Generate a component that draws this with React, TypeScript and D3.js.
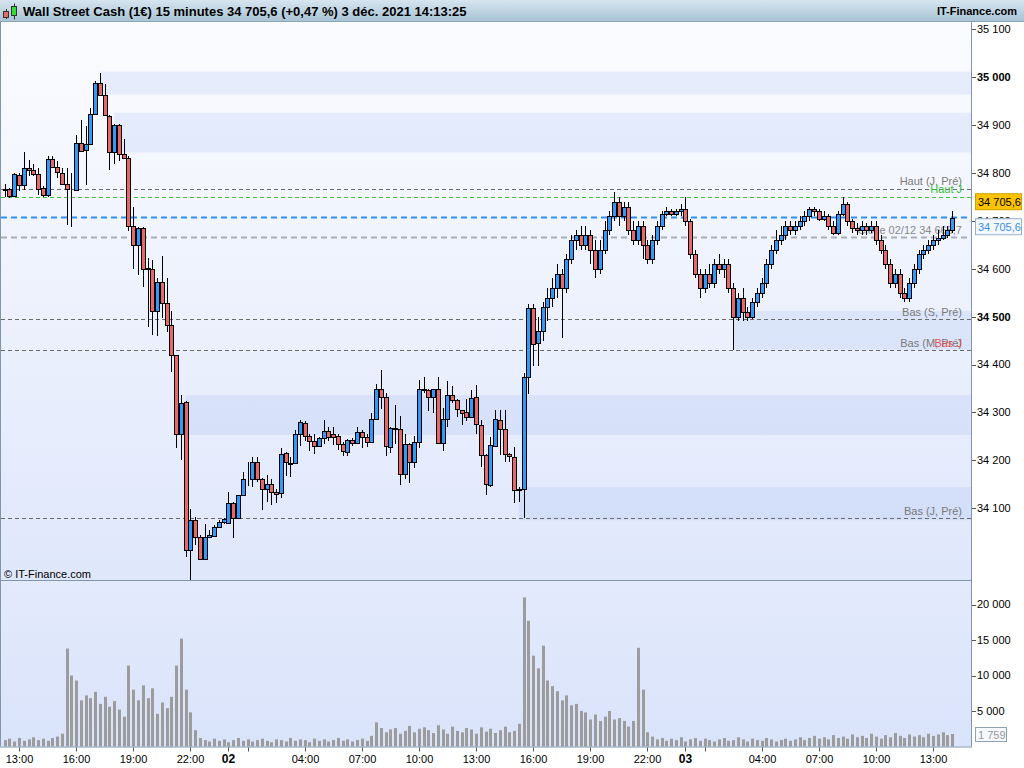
import React from "react";
import * as d3 from "d3";

// ---------- DATA ----------
const firstCandle = "2021-12-01T12:15"; // 15-minute candles
const opens = [
34766,34767,34753,34795,34774,34811,34806,34798,34768,34754,
34830,34813,34801,34777,34764,34765,34863,34848,34861,34924,
34988,34963,34920,34844,34900,34839,34832,34689,34650,34685,
34600,34600,34511,34572,34528,34483,34420,34254,34321,34012,
34075,34040,33993,34039,34042,34060,34072,34070,34110,34079,
34127,34161,34161,34196,34162,34141,34150,34133,34131,34216,
34194,34194,34256,34277,34251,34241,34230,34246,34262,34254,
34251,34235,34218,34243,34237,34260,34248,34239,34286,34348,
34333,34228,34267,34265,34171,34235,34196,34239,34348,34347,
34333,34348,34237,34286,34336,34326,34305,34300,34290,34332,
34273,34212,34148,34230,34284,34265,34214,34206,34138,34141,
34375,34519,34445,
34471,34520,34540,34560,34590,34560,34620,34660,34670,34650,
34670,34640,34600,34640,34680,34710,34740,34710,34730,34680,
34660,34690,34650,34620,34660,34690,34715,34720,34715,34720,
34725,34700,34630,34590,34560,34590,34570,34610,34600,34610,
34560,34500,34540,34510,34500,34530,34550,34570,34610,34640,
34660,34670,34690,34680,34690,34700,34710,34725,34720,34705,
34710,34690,34675,34715,34735,34700,34685,34680,34690,34680,
34690,34660,34640,34610,34570,34590,34550,34540,34570,34600,
34630,34640,34650,34660,34665,34670,34680];
const highs = [
34778,34769,34800,34800,34844,34828,34818,34811,34772,34835,
34836,34825,34811,34811,34800,34880,34910,34898,34936,34993,
35009,34985,34922,34903,34903,34872,34835,34730,34687,34687,
34622,34619,34581,34626,34581,34511,34421,34337,34323,34099,
34082,34044,34068,34054,34065,34075,34079,34134,34113,34127,
34176,34197,34207,34207,34163,34169,34160,34141,34225,34218,
34207,34263,34284,34283,34256,34255,34248,34284,34270,34270,
34256,34239,34245,34246,34270,34263,34256,34298,34359,34389,
34341,34270,34316,34293,34256,34236,34251,34368,34375,34350,
34350,34375,34309,34366,34355,34329,34306,34329,34347,34357,
34284,34214,34249,34305,34305,34305,34216,34228,34145,34382,
34527,34527,34500,
34530,34560,34580,34610,34600,34630,34670,34680,34690,34690,
34680,34660,34660,34700,34720,34760,34750,34740,34740,34700,
34700,34700,34660,34670,34700,34720,34730,34725,34725,34735,
34750,34705,34640,34600,34600,34610,34620,34630,34620,34620,
34570,34550,34560,34520,34540,34560,34580,34620,34650,34680,
34690,34700,34700,34700,34710,34720,34730,34730,34725,34720,
34715,34700,34720,34750,34740,34705,34695,34700,34695,34700,
34700,34670,34650,34620,34600,34600,34560,34580,34610,34640,
34650,34660,34670,34680,34690,34690,34720];
const lows = [
34751,34747,34751,34762,34765,34793,34793,34755,34749,34749,
34811,34790,34776,34692,34687,34763,34844,34776,34859,34922,
34961,34919,34807,34818,34825,34830,34678,34600,34588,34563,
34479,34462,34459,34497,34469,34385,34225,34201,33998,33950,
34023,33991,33991,34037,34042,34058,34068,34068,34038,34077,
34127,34146,34145,34155,34096,34113,34106,34111,34122,34167,
34166,34192,34230,34241,34220,34213,34228,34235,34241,34232,
34221,34209,34209,34229,34235,34225,34227,34237,34284,34307,
34209,34216,34235,34148,34162,34153,34185,34225,34340,34302,
34298,34237,34220,34269,34320,34290,34274,34283,34289,34256,
34187,34127,34145,34228,34211,34197,34197,34110,34113,34079,
34339,34396,34396,
34450,34490,34520,34540,34455,34550,34610,34640,34640,34640,
34610,34580,34590,34630,34670,34700,34690,34700,34670,34650,
34650,34620,34610,34610,34650,34680,34710,34710,34710,34710,
34690,34620,34580,34540,34550,34560,34560,34590,34580,34550,
34430,34490,34490,34490,34495,34520,34540,34560,34600,34630,
34650,34660,34670,34670,34680,34690,34700,34710,34700,34700,
34680,34670,34670,34710,34690,34675,34670,34670,34670,34675,
34650,34630,34600,34560,34560,34540,34530,34530,34560,34590,
34620,34630,34640,34650,34660,34665,34675];
const closes = [
34764,34753,34798,34774,34811,34806,34797,34767,34754,34830,
34813,34802,34777,34767,34765,34863,34847,34861,34924,34988,
34963,34921,34843,34900,34839,34832,34689,34650,34685,34600,
34601,34511,34572,34528,34483,34420,34254,34319,34012,34075,
34040,33993,34040,34044,34061,34072,34077,34110,34079,34127,
34162,34160,34196,34162,34141,34150,34133,34129,34214,34196,
34193,34256,34279,34251,34241,34230,34246,34262,34248,34248,
34235,34220,34243,34237,34260,34248,34239,34286,34348,34333,
34230,34267,34265,34171,34235,34196,34239,34350,34346,34332,
34348,34237,34286,34336,34326,34307,34298,34290,34330,34275,
34212,34150,34233,34286,34265,34214,34209,34138,34141,34373,
34519,34443,34471,
34520,34540,34560,34590,34560,34620,34660,34670,34650,34670,
34640,34600,34640,34680,34710,34740,34710,34730,34680,34660,
34690,34650,34620,34660,34690,34715,34720,34715,34720,34725,
34700,34630,34590,34560,34590,34570,34610,34600,34610,34560,
34500,34540,34510,34500,34530,34550,34570,34610,34640,34660,
34670,34690,34680,34690,34700,34710,34725,34720,34705,34710,
34690,34675,34715,34735,34700,34685,34680,34690,34680,34690,
34660,34640,34610,34570,34590,34550,34540,34570,34600,34630,
34640,34650,34660,34665,34670,34680,34705.6];
const volumes = [
900,1100,700,1200,800,1000,1300,900,1100,800,1200,1400,1800,
13800,
10000,9300,6500,7200,6800,7700,6000,7000,5600,6400,5200,4200,
11400,
8000,6500,8600,6800,8200,4600,6200,5400,7000,
11400,15200,8000,4800,2300,
1200,900,700,1100,800,1000,600,900,1200,800,
1000,700,900,1100,800,600,1000,900,700,1200,
800,1000,900,600,1100,800,1000,700,900,1200,
800,1000,700,900,1100,800,1500,
3400,2600,2000,2400,2600,1800,2200,2900,2000,2500,
2700,2300,1900,3000,2400,1800,2800,2200,2000,2600,
2400,1800,2700,2100,2500,1900,2300,2800,2000,2200,3200,
21000,17700,12800,11000,14200,9300,8500,7800,6500,7200,
5800,6000,5000,4800,3800,4500,3600,4200,5000,3800,
4000,3600,2800,3600,13900,8000,2000,
1400,1000,1200,800,1100,900,1300,700,1000,1200,
800,1100,900,700,1000,1200,800,900,1300,1000,
700,1100,900,800,1200,1000,700,900,1100,800,
1000,1300,900,1200,1500,1100,1300,1000,1600,1200,
1400,1100,1700,1300,1500,1200,1800,1400,1100,1600,
1300,1900,1500,1200,1700,1400,1600,1300,1800,1500,
1700,2000,1600,1759];

const title = "Wall Street Cash (1€) 15 minutes 34 705,6 (+0,47 %) 3 déc. 2021 14:13:25";
const brand = "IT-Finance.com";
const copyright = "© IT-Finance.com";
const lastPrice = 34705.6;
const lastPriceText = "34 705,6";
const lastVolumeText = "1 759";

const priceTicks = [34100, 34200, 34300, 34400, 34500, 34600, 34700, 34800, 34900, 35000, 35100];
const volumeTicks = [5000, 10000, 15000, 20000];

const xTickTimes = [
  "2021-12-01T13:00", "2021-12-01T16:00", "2021-12-01T19:00", "2021-12-01T22:00",
  "2021-12-02T00:00", "2021-12-02T01:00", "2021-12-02T04:00", "2021-12-02T07:00",
  "2021-12-02T10:00", "2021-12-02T13:00", "2021-12-02T16:00", "2021-12-02T19:00",
  "2021-12-02T22:00", "2021-12-03T00:00", "2021-12-03T01:00", "2021-12-03T04:00",
  "2021-12-03T07:00", "2021-12-03T10:00", "2021-12-03T13:00"];
const xTickLabels = ["13:00", "16:00", "19:00", "22:00", "02", "", "04:00", "07:00", "10:00",
  "13:00", "16:00", "19:00", "22:00", "03", "", "04:00", "07:00", "10:00", "13:00"];

const levelNames = ["Haut (J, Pré)", "Haut J", "Close 02/12 34 665,7", "Bas (S, Pré)", "Bas (M, Pré)", "Bas J", "Bas (J, Pré)"];
const levelValues = [34767, 34751, 34665.7, 34495, 34430, 34430, 34079];
const levelKinds = ["ref", "today", "close", "ref", "ref", "todayLow", "ref"];

const zoneStarts = ["2021-12-01T17:15", "2021-12-01T18:00", "2021-12-01T21:45", "2021-12-02T15:15", "2021-12-03T02:30"];
const zoneTops = [35012, 34926, 34336, 34144, 34512];
const zoneBottoms = [34964, 34843, 34253, 34075, 34431];

// ---------- LAYOUT ----------
const W = 1024, H = 768;
const plotL = 1, plotR = 971, top = 22, priceBottom = 580, volBottom = 746.5;
const FONT = "'Liberation Sans', Arial, Helvetica, sans-serif";

const parse = d3.timeParse("%Y-%m-%dT%H:%M");
const locale = d3.formatLocale({ decimal: ",", thousands: "\u00a0", grouping: [3], currency: ["", "€"] });
const fmt = locale.format(",.0f");

export default function App() {
  const t0 = parse(firstCandle)!.getTime();
  const candles = opens.map((o, i) => ({
    t: new Date(t0 + i * 15 * 60 * 1000), o, h: highs[i], l: lows[i], c: closes[i], v: volumes[i],
  }));

  const x = d3.scaleTime()
    .domain([parse("2021-12-01T13:00")!, parse("2021-12-03T13:00")!])
    .range([19, 933]);
  const y = d3.scaleLinear().domain([34100, 35100]).range([508.2, 29.4]);
  const yv = d3.scaleLinear().domain([0, 20000]).range([volBottom, 604.5]);

  const cur = y(lastPrice);
  const levelColor = (k: string) => k === "today" ? "#3fc43f" : k === "todayLow" ? "#e04848" : k === "close" ? "#a9adb5" : "#6a6a6a";
  const levelText = (k: string) => k === "today" ? "#37c037" : k === "todayLow" ? "#e85050" : k === "close" ? "#8a8a8a" : "#7a7a7a";

  return (
    <svg width={W} height={H} style={{ position: "absolute", left: 0, top: 0, background: "#fff" }} fontFamily={FONT}>
      <defs>
        <linearGradient id="hdr" x1="0" y1="0" x2="0" y2="1">
          <stop offset="0" stopColor="#d6e5ef" />
          <stop offset="1" stopColor="#a8c2d4" />
        </linearGradient>
        <linearGradient id="pbg" x1="0" y1="0" x2="0" y2="1">
          <stop offset="0" stopColor="#fbfcff" />
          <stop offset="1" stopColor="#dfe7fb" />
        </linearGradient>
        <linearGradient id="vbg" x1="0" y1="0" x2="0" y2="1">
          <stop offset="0" stopColor="#e3eafc" />
          <stop offset="1" stopColor="#d9e3fa" />
        </linearGradient>
        <clipPath id="pclip"><rect x={plotL} y={top} width={plotR - plotL} height={priceBottom - top} /></clipPath>
      </defs>
      <rect x={0} y={0} width={W} height={H} fill="#ffffff" />
      {/* header */}
      <rect x={0} y={0} width={W} height={top} fill="url(#hdr)" />
      <line x1={0} x2={W} y1={top - 0.5} y2={top - 0.5} stroke="#8ba5b8" />
      <line x1={6.5} x2={6.5} y1={9} y2={19} stroke="#333" />
      <rect x={3.5} y={11.5} width={5} height={6} fill="#e8696b" stroke="#333" />
      <line x1={14.5} x2={14.5} y1={3.5} y2={19.5} stroke="#333" />
      <rect x={11.5} y={6.5} width={5} height={9} fill="#33dd33" stroke="#333" />
      <text x={23} y={16} fontSize={13} fontWeight="bold" fill="#000">{title}</text>
      <text x={1017} y={15} fontSize={11} fontWeight="bold" fill="#000" textAnchor="end">{brand}</text>

      {/* panels */}
      <rect x={plotL} y={top} width={plotR - plotL} height={priceBottom - top} fill="url(#pbg)" />
      <rect x={plotL} y={priceBottom} width={plotR - plotL} height={volBottom - priceBottom} fill="url(#vbg)" />

      <g clipPath="url(#pclip)">
        {zoneStarts.map((s, i) => (
          <rect key={"z" + i} x={x(parse(s)!)} y={y(zoneTops[i])} width={plotR - x(parse(s)!)}
            height={y(zoneBottoms[i]) - y(zoneTops[i])} fill="rgba(120,155,235,0.14)" />
        ))}
        {levelValues.map((v, i) => {
          const k = levelKinds[i];
          if (k === "todayLow") return null;
          const yy = Math.round(y(v)) + 0.5;
          return <line key={"l" + i} x1={plotL} x2={plotR} y1={yy} y2={yy} stroke={levelColor(k)}
            strokeWidth={k === "close" ? 2 : 1} strokeDasharray={k === "close" ? "6,4" : "4,3"} />;
        })}
        <line x1={plotL} x2={plotR} y1={Math.round(cur) - 0.5} y2={Math.round(cur) - 0.5} stroke="#2f8ff0" strokeWidth={2} strokeDasharray="6,4" />
        {levelNames.map((n, i) => (
          <text key={"t" + i} x={962} y={y(levelValues[i]) - 3.5} fontSize={11} textAnchor="end" fill={levelText(levelKinds[i])}>{n}</text>
        ))}
        {candles.map((d, i) => {
          const cx = Math.round(x(d.t)) + 0.5;
          const yo = y(d.o), yc = y(d.c);
          const up = d.c >= d.o;
          const y1 = Math.round(Math.min(yo, yc)) + 0.5;
          const y2 = Math.round(Math.max(yo, yc)) + 0.5;
          return (
            <g key={"c" + i}>
              <line x1={cx} x2={cx} y1={Math.round(y(d.h))} y2={Math.round(y(d.l))} stroke="#000" />
              <rect x={cx - 2} y={y1} width={4} height={Math.max(0, y2 - y1)}
                fill={up ? "#3398f7" : "#e8686a"} stroke="#000" strokeWidth={1} />
            </g>
          );
        })}
        <text x={4} y={578} fontSize={11} fill="#000">{copyright}</text>
      </g>

      {/* volume */}
      {candles.map((d, i) => (
        <rect key={"v" + i} x={Math.round(x(d.t)) - 1} y={yv(d.v)} width={3} height={volBottom - yv(d.v)} fill="#9c9c9c" />
      ))}

      {/* borders */}
      <line x1={0.5} x2={0.5} y1={top} y2={volBottom} stroke="#8196aa" />
      <line x1={plotR + 0.5} x2={plotR + 0.5} y1={top} y2={volBottom} stroke="#8196aa" />
      <line x1={0} x2={plotR} y1={priceBottom + 0.5} y2={priceBottom + 0.5} stroke="#8196aa" />
      <line x1={0} x2={plotR + 1} y1={volBottom + 0.5} y2={volBottom + 0.5} stroke="#8196aa" />

      {/* right price axis */}
      {priceTicks.map((p) => (
        <g key={"pt" + p}>
          <line x1={plotR + 1} x2={plotR + 5} y1={Math.round(y(p)) + 0.5} y2={Math.round(y(p)) + 0.5} stroke="#555" />
          <text x={977} y={y(p)} dy="0.35em" fontSize={11} fontWeight={p % 500 === 0 ? "bold" : "normal"} fill="#000">{fmt(p)}</text>
        </g>
      ))}
      <rect x={975.5} y={cur - 24.5} width={46} height={16} fill="#fcc400" stroke="#c9a000" />
      <text x={978} y={cur - 16.5} dy="0.35em" fontSize={11} fill="#000">{lastPriceText}</text>
      <rect x={975.5} y={cur + 0.5} width={46} height={16} fill="#f3f8ff" stroke="#9ab0c6" />
      <text x={978} y={cur + 8.5} dy="0.35em" fontSize={11} fill="#3a8ee6">{lastPriceText}</text>

      {/* volume axis */}
      {volumeTicks.map((v) => (
        <g key={"vt" + v}>
          <line x1={plotR + 1} x2={plotR + 5} y1={Math.round(yv(v)) + 0.5} y2={Math.round(yv(v)) + 0.5} stroke="#555" />
          <text x={977} y={yv(v)} dy="0.35em" fontSize={11} fill="#000">{fmt(v)}</text>
        </g>
      ))}
      <rect x={975.5} y={727.5} width={31} height={14} fill="#f5f8fc" stroke="#8ea2b4" />
      <text x={978} y={735} dy="0.35em" fontSize={11} fill="#999">{lastVolumeText}</text>

      {/* time axis */}
      {xTickTimes.map((s, i) => {
        const xx = Math.round(x(parse(s)!)) + 0.5;
        const bold = xTickLabels[i].length === 2;
        return (
          <g key={"xt" + i}>
            <line x1={xx} x2={xx} y1={volBottom + 1} y2={volBottom + 5} stroke="#555" />
            {xTickLabels[i] && (
              <text x={xx} y={763} fontSize={bold ? 12 : 11} fontWeight={bold ? "bold" : "normal"} textAnchor="middle" fill="#000">{xTickLabels[i]}</text>
            )}
          </g>
        );
      })}
    </svg>
  );
}
